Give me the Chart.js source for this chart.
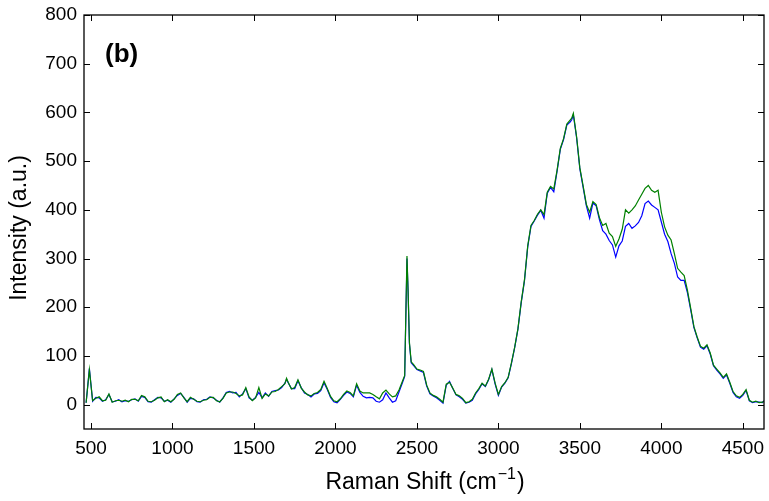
<!DOCTYPE html>
<html><head><meta charset="utf-8">
<script src="https://cdn.jsdelivr.net/npm/chart.js@4/dist/chart.umd.min.js"></script>
<style>html,body{margin:0;padding:0;background:#fff}canvas{display:block}</style>
</head><body>
<canvas id="c" width="769" height="501"></canvas>
<script>
const ramanShift = [470,490,510,530,550,570,590,610,630,650,670,690,710,730,750,770,790,810,830,850,870,890,910,930,950,970,990,1010,1030,1050,1070,1090,1110,1130,1150,1170,1190,1210,1230,1250,1270,1290,1310,1330,1350,1370,1390,1410,1430,1450,1470,1490,1510,1530,1550,1570,1590,1610,1630,1650,1670,1690,1700,1710,1730,1750,1770,1790,1810,1830,1850,1870,1890,1910,1930,1950,1970,1990,2010,2030,2050,2070,2090,2110,2130,2150,2170,2190,2210,2230,2250,2270,2290,2310,2330,2350,2370,2390,2410,2425,2432,2439,2446,2454,2465,2480,2500,2520,2540,2560,2580,2600,2620,2640,2660,2680,2700,2720,2740,2760,2780,2800,2820,2840,2860,2880,2900,2920,2940,2960,2980,3000,3020,3040,3060,3080,3100,3120,3140,3160,3180,3200,3220,3240,3260,3280,3300,3320,3340,3360,3380,3400,3420,3440,3450,3460,3480,3500,3520,3540,3560,3580,3600,3620,3640,3660,3680,3700,3720,3740,3760,3780,3800,3820,3840,3860,3880,3900,3920,3940,3960,3980,4000,4020,4040,4060,4080,4100,4120,4140,4160,4180,4200,4220,4240,4260,4280,4300,4320,4340,4360,4380,4400,4420,4440,4460,4480,4500,4520,4540,4560,4580,4600,4620,4630];
const intensityBlue = [4,74,7,15,14,7,10,21,6,7,10,6,8,7,10,12,7,17,15,6,5,10,15,14,7,9,5,12,19,23,15,5,13,12,6,5,10,11,16,14,9,5,14,25,27,24,25,16,22,33,14,9,15,25,14,24,17,27,29,30,35,44,52,45,33,33,49,35,24,21,16,22,23,29,45,31,15,6,4,11,19,26,23,16,40,25,17,14,15,14,7,5,10,24,14,5,8,26,44,58,180,300,230,125,86,80,72,69,66,38,22,18,14,9,3,40,48,33,20,16,11,3,5,9,22,31,43,37,51,72,42,19,36,44,55,84,117,155,209,254,324,366,377,389,399,383,434,446,437,479,524,544,574,580,585,595,548,484,446,408,383,414,408,380,357,350,337,328,303,326,336,366,372,362,367,374,388,413,418,410,405,400,375,350,335,310,290,262,255,255,230,195,158,137,118,114,121,104,80,71,63,54,61,44,25,16,13,19,29,8,4,6,5,4,8];
const intensityGreen = [4,72,8,13,16,8,9,22,5,8,9,7,9,6,11,11,8,19,16,7,6,9,14,16,6,10,6,11,21,24,14,6,15,11,7,6,9,10,15,15,8,6,13,24,26,26,23,18,20,35,16,8,14,35,13,22,18,26,27,31,37,43,54,46,32,35,51,34,26,20,18,23,25,31,48,33,17,8,6,12,21,28,25,18,43,28,24,24,24,21,16,12,24,30,22,16,18,30,47,60,185,305,232,128,88,82,73,71,68,40,24,19,16,11,5,42,46,34,21,18,13,4,6,11,24,33,44,38,52,73,44,21,37,45,56,86,118,156,211,256,326,368,378,391,400,390,436,448,443,481,526,546,576,584,588,598,550,486,449,411,395,417,411,384,368,372,352,345,325,340,360,400,393,400,408,420,432,444,450,440,436,440,395,365,348,338,310,280,272,265,235,198,160,139,120,116,123,106,81,73,65,56,63,46,27,18,15,21,31,9,5,7,4,5,7];
const xTickValues = [500,1000,1500,2000,2500,3000,3500,4000,4500];
const yTickValues = [0,100,200,300,400,500,600,700,800];
const xTitleMain = 'Raman Shift (cm';
const xTitleSup = '\u22121';
const xTitleEnd = ')';
const yTitle = 'Intensity (a.u.)';
const panelLabel = '(b)';

const FONT = '"Liberation Sans", Arial, Helvetica, sans-serif';

const framePlugin = {
  id: 'frame',
  afterDraw(chart) {
    const ctx = chart.ctx;
    const a = chart.chartArea;
    const xs = chart.scales.x, ys = chart.scales.y;
    ctx.save();
    ctx.strokeStyle = '#000';
    ctx.lineWidth = 1;
    ctx.beginPath();
    xTickValues.forEach(v => {
      const p = Math.round(xs.getPixelForValue(v)) + 0.5;
      ctx.moveTo(p, a.bottom); ctx.lineTo(p, a.bottom - 6);
      ctx.moveTo(p, a.top); ctx.lineTo(p, a.top + 6);
    });
    yTickValues.forEach(v => {
      const p = Math.round(ys.getPixelForValue(v)) + 0.5;
      ctx.moveTo(a.left, p); ctx.lineTo(a.left + 6, p);
      ctx.moveTo(a.right, p); ctx.lineTo(a.right - 6, p);
    });
    ctx.stroke();
    ctx.lineWidth = 1.3;
    ctx.strokeRect(a.left, a.top, a.right - a.left, a.bottom - a.top);
    ctx.fillStyle = '#000';
    ctx.textBaseline = 'alphabetic';
    ctx.textAlign = 'left';
    const mainFont = '23px ' + FONT, supFont = '16px ' + FONT;
    ctx.font = mainFont; const w1 = ctx.measureText(xTitleMain).width; const w3 = ctx.measureText(xTitleEnd).width;
    ctx.font = supFont; const w2 = ctx.measureText(xTitleSup).width;
    const cx = (a.left + a.right) / 2;
    const x0 = cx - (w1 + w2 + w3) / 2;
    const base = 489;
    ctx.font = mainFont; ctx.fillText(xTitleMain, x0, base);
    ctx.font = supFont; ctx.fillText(xTitleSup, x0 + w1 + 1, base - 10);
    ctx.font = mainFont; ctx.fillText(xTitleEnd, x0 + w1 + w2 + 2, base);
    ctx.save();
    ctx.translate(20, 228);
    ctx.rotate(-Math.PI / 2);
    ctx.textAlign = 'center';
    ctx.textBaseline = 'middle';
    ctx.font = mainFont;
    ctx.fillText(yTitle, 0, 0);
    ctx.restore();
    ctx.font = 'bold 26px ' + FONT;
    ctx.textAlign = 'left';
    ctx.textBaseline = 'alphabetic';
    ctx.fillText(panelLabel, 105, 62);
    ctx.restore();
  }
};

new Chart(document.getElementById('c'), {
  type: 'line',
  data: {
    datasets: [
      { label: 'green', data: ramanShift.map((x, i) => ({ x: x, y: intensityGreen[i] })), borderColor: '#008000', borderWidth: 1.2, pointRadius: 0, tension: 0, order: 0 },
      { label: 'blue', data: ramanShift.map((x, i) => ({ x: x, y: intensityBlue[i] })), borderColor: '#0000ff', borderWidth: 1.2, pointRadius: 0, tension: 0, order: 1 }
    ]
  },
  options: {
    responsive: false, animation: false, devicePixelRatio: 1,
    layout: { padding: { left: 0, right: 5, top: 15, bottom: 0 } },
    plugins: { legend: { display: false }, tooltip: { enabled: false } },
    scales: {
      x: {
        type: 'linear', min: 457, max: 4630,
        grid: { display: false, drawTicks: false }, border: { display: false },
        afterBuildTicks: s => { s.ticks = xTickValues.map(v => ({ value: v })); },
        afterFit: s => { s.height = 72; s.paddingLeft = 0; s.paddingRight = 0; s.paddingTop = 0; s.paddingBottom = 0; },
        ticks: { font: { family: FONT, size: 19 }, color: '#000', padding: 8, maxRotation: 0, autoSkip: false, callback: v => String(v) }
      },
      y: {
        type: 'linear', min: -50, max: 800,
        grid: { display: false, drawTicks: false }, border: { display: false },
        afterBuildTicks: s => { s.ticks = yTickValues.map(v => ({ value: v })); },
        afterFit: s => { s.width = 84; s.paddingTop = 0; s.paddingBottom = 0; s.paddingLeft = 0; s.paddingRight = 0; },
        ticks: { font: { family: FONT, size: 19 }, color: '#000', padding: 7, autoSkip: false, callback: v => String(v) }
      }
    }
  },
  plugins: [framePlugin]
});
</script>
</body></html>
